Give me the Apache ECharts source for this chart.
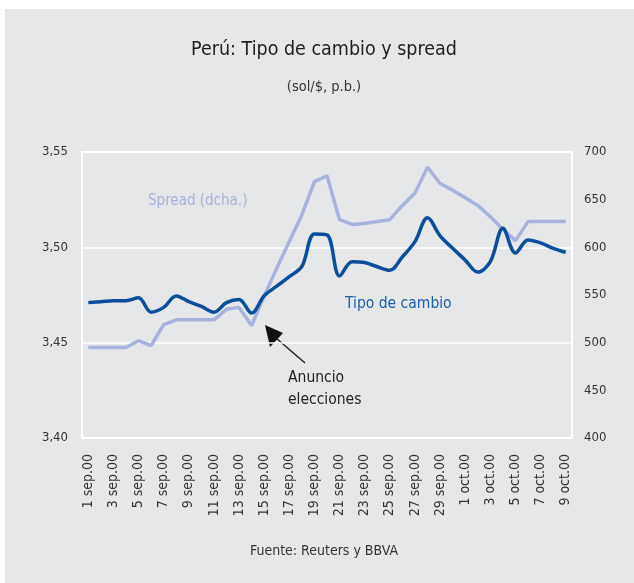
<!DOCTYPE html>
<html>
<head>
<meta charset="utf-8">
<script src="https://cdn.jsdelivr.net/npm/echarts@6/dist/echarts.min.js"></script>
<style>
html,body{margin:0;padding:0;background:#ffffff;}
#chart{width:634px;height:583px;}
</style>
</head>
<body>
<div id="chart"></div>
<script>
const dates = ['1 sep.00','2 sep.00','3 sep.00','4 sep.00','5 sep.00','6 sep.00','7 sep.00','8 sep.00','9 sep.00','10 sep.00',
  '11 sep.00','12 sep.00','13 sep.00','14 sep.00','15 sep.00','16 sep.00','17 sep.00','18 sep.00','19 sep.00','20 sep.00',
  '21 sep.00','22 sep.00','23 sep.00','24 sep.00','25 sep.00','26 sep.00','27 sep.00','28 sep.00','29 sep.00','30 sep.00',
  '1 oct.00','2 oct.00','3 oct.00','4 oct.00','5 oct.00','6 oct.00','7 oct.00','8 oct.00','9 oct.00'];

const tipoCambio = [3.471,3.4715,3.472,3.472,3.4735,3.466,3.4685,3.4745,3.4715,3.469,
  3.466,3.471,3.4727,3.4655,3.4746,3.4796,3.4846,3.490,3.507,3.5065,
  3.485,3.4925,3.492,3.4898,3.488,3.495,3.503,3.5155,3.506,3.4995,
  3.4933,3.487,3.4925,3.510,3.497,3.5038,3.5023,3.4995,3.4974];

const spread = [495,495,495,495,502,497,519,524,524,524,
  524,535,537,518,549,578,606,634,669,675,
  629,624,625,627,629,644,657,684,667,660,
  652,644,632,619,607,627,627,627,627];

const leftTicks = {min: 3.40, max: 3.55, interval: 0.05};
const rightTicks = {min: 400, max: 700, interval: 50};

const FONT = "'DejaVu Sans Condensed','Liberation Sans',sans-serif";
const chart = echarts.init(document.getElementById('chart'));
chart.setOption({
  animation: false,
  backgroundColor: '#ffffff',
  textStyle: {fontFamily: FONT},
  graphic: [
    {type: 'rect', z: -10, shape: {x: 5, y: 9, width: 629, height: 574}, style: {fill: '#e6e7e9'}},
    {type: 'text', x: 324, y: 40, style: {text: 'Perú: Tipo de cambio y spread', font: '19.5px ' + FONT, fill: '#1e1e1e', textAlign: 'center'}},
    {type: 'text', x: 324, y: 80, style: {text: '(sol/$, p.b.)', font: '14.5px ' + FONT, fill: '#333', textAlign: 'center'}},
    {type: 'text', x: 324, y: 544, style: {text: 'Fuente: Reuters y BBVA', font: '14px ' + FONT, fill: '#333', textAlign: 'center'}},
    {type: 'text', x: 148, y: 194, style: {text: 'Spread (dcha.)', font: '15px ' + FONT, fill: '#a7b3dc'}},
    {type: 'text', x: 345, y: 296, style: {text: 'Tipo de cambio', font: '15.5px ' + FONT, fill: '#1b5eab'}},
    {type: 'text', x: 288, y: 370, style: {text: 'Anuncio', font: '15.5px ' + FONT, fill: '#222'}},
    {type: 'text', x: 288, y: 392, style: {text: 'elecciones', font: '15.5px ' + FONT, fill: '#222'}},
    {type: 'line', shape: {x1: 276, y1: 338, x2: 305, y2: 363}, style: {stroke: '#222', lineWidth: 1.5}},
    {type: 'polygon', shape: {points: [[265, 325], [283, 333], [270, 347]]}, style: {fill: '#111'}}
  ],
  grid: {left: 82, right: 62, top: 152, bottom: 145, show: true, borderColor: '#ffffff', borderWidth: 1.5, backgroundColor: 'transparent'},
  xAxis: {
    type: 'category', data: dates, boundaryGap: true,
    axisLine: {lineStyle: {color: '#ffffff', width: 1.5}},
    axisTick: {show: false},
    axisLabel: {interval: 1, rotate: 90, margin: 16, fontSize: 14, color: '#333', fontFamily: FONT}
  },
  yAxis: [
    {type: 'value', min: leftTicks.min, max: leftTicks.max, interval: leftTicks.interval, position: 'left',
     axisLine: {show: true, lineStyle: {color: '#ffffff', width: 1.5}}, axisTick: {show: false},
     splitLine: {lineStyle: {color: '#ffffff', width: 1.5}},
     axisLabel: {margin: 14, fontSize: 13, color: '#333', fontFamily: FONT,
       formatter: v => v.toFixed(2).replace('.', ',')}},
    {type: 'value', min: rightTicks.min, max: rightTicks.max, interval: rightTicks.interval, position: 'right',
     axisLine: {show: true, lineStyle: {color: '#ffffff', width: 1.5}}, axisTick: {show: false},
     splitLine: {show: false},
     axisLabel: {margin: 12, fontSize: 13, color: '#333', fontFamily: FONT}}
  ],
  series: [
    {name: 'Spread (dcha.)', type: 'line', yAxisIndex: 1, data: spread, symbol: 'none',
     lineStyle: {color: '#a7b3dc', width: 3.5}, z: 2},
    {name: 'Tipo de cambio', type: 'line', yAxisIndex: 0, data: tipoCambio, symbol: 'none', smooth: 0.35,
     lineStyle: {color: '#0b4f9c', width: 3.5}, z: 3}
  ]
});
</script>
</body>
</html>
